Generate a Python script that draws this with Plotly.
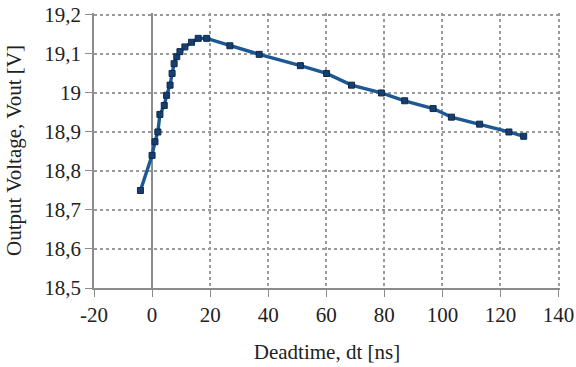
import plotly.graph_objects as go

deadtime_ns = [-4, 0, 1, 2, 2.7, 4.2, 5, 6.2, 6.9, 7.6, 8.5, 9.6, 11.3, 13.6, 15.9, 18.8,
               26.8, 36.9, 51.1, 60.1, 68.7, 79, 87, 96.8, 103.1, 112.8, 122.9, 128]
vout_v = [18.75, 18.84, 18.875, 18.9, 18.945, 18.968, 18.994, 19.02, 19.05, 19.075, 19.093,
          19.106, 19.118, 19.13, 19.14, 19.14, 19.121, 19.099, 19.07, 19.05, 19.02, 19.0,
          18.98, 18.96, 18.938, 18.92, 18.9, 18.889]

x_tickvals = [-20, 0, 20, 40, 60, 80, 100, 120, 140]
x_ticktext = ["-20", "0", "20", "40", "60", "80", "100", "120", "140"]
y_tickvals = [18.5, 18.6, 18.7, 18.8, 18.9, 19.0, 19.1, 19.2]
y_ticktext = ["18,5", "18,6", "18,7", "18,8", "18,9", "19", "19,1", "19,2"]

x_title = "Deadtime, dt [ns]"
y_title = "Output Voltage, Vout [V]"

font_family = "Liberation Serif, Times New Roman, serif"
axis_col = "#8c8c8c"
grid_col = "#9a9a9a"

fig = go.Figure()
fig.add_trace(go.Scatter(
    x=deadtime_ns, y=vout_v, mode="lines+markers",
    line=dict(color="#1d5893", width=3.4),
    marker=dict(symbol="square", size=6, color="#173f6e",
                line=dict(color="#0d2a4d", width=1)),
    showlegend=False,
))

fig.update_layout(
    width=576, height=367,
    margin=dict(l=94, r=16, t=13, b=79),
    paper_bgcolor="white", plot_bgcolor="white",
    font=dict(family=font_family, size=21, color="#222222"),
    xaxis=dict(
        range=[-20, 140.5], tickvals=x_tickvals, ticktext=x_ticktext,
        automargin=False, ticklabeloverflow="allow",
        showgrid=True, gridcolor=grid_col, griddash="dot", gridwidth=1.5,
        zeroline=True, zerolinecolor=axis_col, zerolinewidth=1.5,
        showline=True, linecolor=axis_col, linewidth=1.5,
        ticks="outside", ticklen=7, tickcolor=axis_col, tickwidth=1.2,
        title=dict(text=x_title, standoff=18, font=dict(size=21)),
        tickfont=dict(size=21),
    ),
    yaxis=dict(
        range=[18.5, 19.205], tickvals=y_tickvals, ticktext=y_ticktext,
        automargin=False, ticklabeloverflow="allow",
        showgrid=True, gridcolor=grid_col, griddash="dot", gridwidth=1.5,
        zeroline=False,
        showline=True, linecolor=axis_col, linewidth=1.5,
        ticks="outside", ticklen=7, tickcolor=axis_col, tickwidth=1.2,
        title=dict(text=y_title, standoff=17, font=dict(size=21)),
        tickfont=dict(size=21),
    ),
)

# remove the default 8px page margin so the figure fills the window exactly
fig.write_html("out.html",
               config={"displayModeBar": False},
               post_script="document.body.style.margin='0px';document.body.style.overflow='hidden';")
